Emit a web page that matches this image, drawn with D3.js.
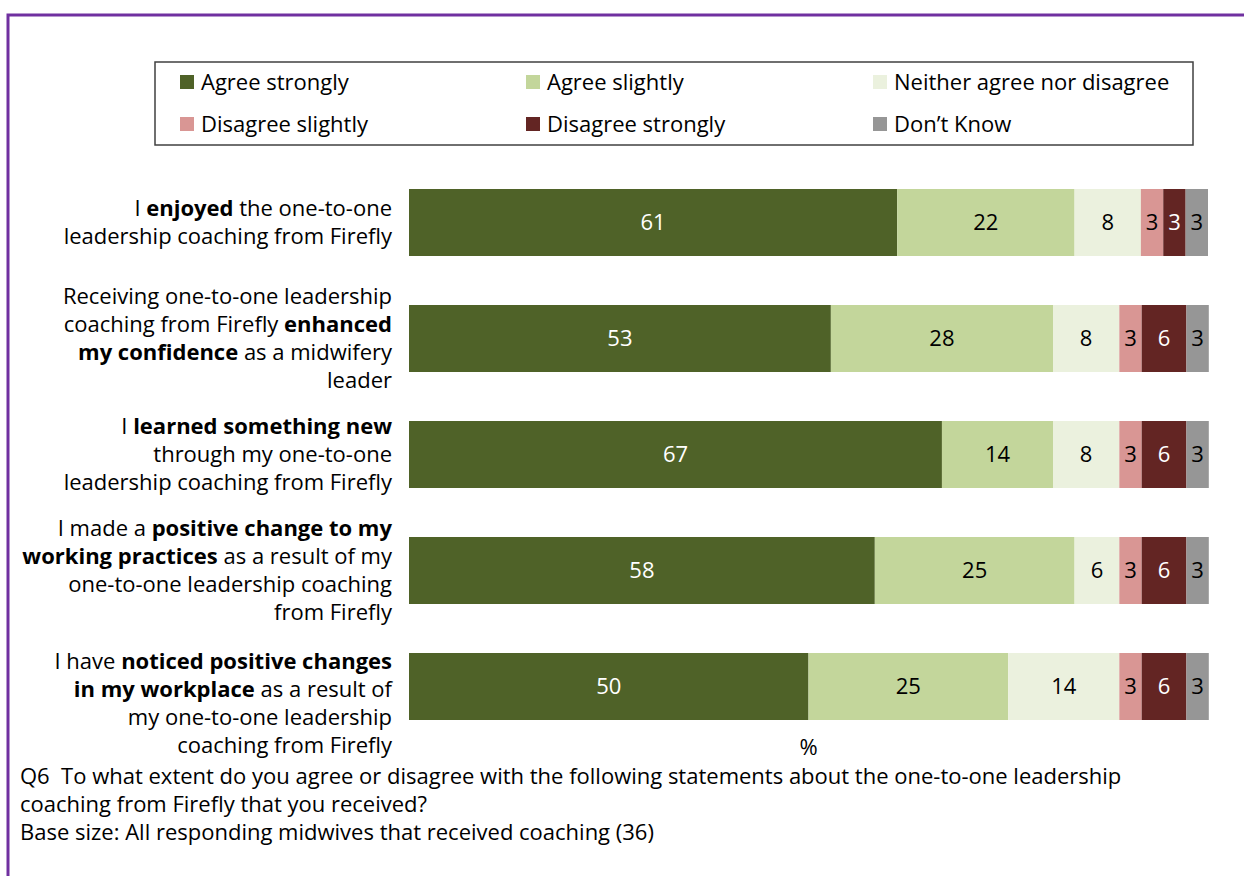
<!DOCTYPE html>
<html>
<head>
<meta charset="utf-8">
<script src="https://cdn.jsdelivr.net/npm/d3@7"></script>
<style>
  html, body { margin: 0; padding: 0; background: #fff; }
  svg { display: block; }
  text { font-family: "Open Sans", "Noto Sans", sans-serif; fill: #000; }
</style>
</head>
<body>
<svg id="chart" width="1244" height="876"></svg>
<script>
// ---- data ----
const seriesNames = ["Agree strongly", "Agree slightly", "Neither agree nor disagree",
                     "Disagree slightly", "Disagree strongly", "Don\u2019t Know"];
const seriesColors = ["#4F6228", "#C3D69B", "#EBF1DE", "#D99694", "#632523", "#969696"];
const seriesTextColors = ["#fff", "#000", "#000", "#000", "#fff", "#000"];

// category labels: lines of [text, bold]
const categories = [
  [[["I ", false], ["enjoyed", true], [" the one-to-one", false]],
   [["leadership coaching from Firefly", false]]],
  [[["Receiving one-to-one leadership", false]],
   [["coaching from Firefly ", false], ["enhanced", true]],
   [["my confidence", true], [" as a midwifery", false]],
   [["leader", false]]],
  [[["I ", false], ["learned something new", true]],
   [["through my one-to-one", false]],
   [["leadership coaching from Firefly", false]]],
  [[["I made a ", false], ["positive change to my", true]],
   [["working practices", true], [" as a result of my", false]],
   [["one-to-one leadership coaching", false]],
   [["from Firefly", false]]],
  [[["I have ", false], ["noticed positive changes", true]],
   [["in my workplace", true], [" as a result of", false]],
   [["my one-to-one leadership", false]],
   [["coaching from Firefly", false]]]
];

// percentages per series (one value per category)
const agreeStrongly    = [61.1, 52.8, 66.7, 58.3, 50.0];
const agreeSlightly    = [22.2, 27.8, 13.9, 25.0, 25.0];
const neither          = [8.3, 8.3, 8.3, 5.6, 13.9];
const disagreeSlightly = [2.8, 2.8, 2.8, 2.8, 2.8];
const disagreeStrongly = [2.8, 5.6, 5.6, 5.6, 5.6];
const dontKnow         = [2.8, 2.8, 2.8, 2.8, 2.8];

const footerLines = [
  "Q6\u00A0 To what extent do you agree or disagree with the following statements about the one-to-one leadership",
  "coaching from Firefly that you received?",
  "Base size: All responding midwives that received coaching (36)"
];
const axisTitle = "%";

// ---- build table ----
const seriesValues = [agreeStrongly, agreeSlightly, neither, disagreeSlightly, disagreeStrongly, dontKnow];
const keys = seriesNames;
const rows = categories.map((c, i) => {
  const r = { idx: i };
  keys.forEach((k, j) => r[k] = seriesValues[j][i]);
  return r;
});
const stack = d3.stack().keys(keys)(rows);

const svg = d3.select("#chart");
const FS = "22px";

// outer purple frame
svg.append("rect")
  .attr("x", 8).attr("y", 15).attr("width", 1260).attr("height", 900)
  .attr("fill", "none").attr("stroke", "#7030A0").attr("stroke-width", 3);

// scales
const x = d3.scaleLinear().domain([0, 100]).range([409, 1208]);
const y = d3.scaleBand().domain(d3.range(categories.length))
  .range([164.5, 744.5]).paddingInner(0.4224).paddingOuter(0.2112);
const color = d3.scaleOrdinal().domain(keys).range(seriesColors);
const tcolor = d3.scaleOrdinal().domain(keys).range(seriesTextColors);

// bars
const layers = svg.append("g").selectAll("g").data(stack).join("g")
  .attr("fill", d => color(d.key));
layers.selectAll("rect").data(d => d.map(p => ({p, key: d.key}))).join("rect")
  .attr("x", d => x(d.p[0]))
  .attr("y", d => y(d.p.data.idx))
  .attr("width", d => x(d.p[1]) - x(d.p[0]))
  .attr("height", y.bandwidth());

// value labels
const fmt = d3.format(".0f");
layers.selectAll("text").data(d => d.map(p => ({p, key: d.key}))).join("text")
  .attr("x", d => (x(d.p[0]) + x(d.p[1])) / 2)
  .attr("y", d => y(d.p.data.idx) + y.bandwidth() / 2)
  .attr("dy", "0.35em")
  .attr("text-anchor", "middle")
  .style("font-size", FS)
  .style("fill", d => tcolor(d.key))
  .text(d => fmt(d.p[1] - d.p[0]));

// category labels (y axis, no line)
const lineH = 28;
const catG = svg.append("g");
categories.forEach((lines, i) => {
  const n = lines.length;
  // last label overflows its slot and is pushed down, as in the original
  let cy = y(i) + y.bandwidth() / 2;
  if (i === categories.length - 1) cy += 17;
  const t = catG.append("text")
    .attr("text-anchor", "end")
    .style("font-size", FS);
  lines.forEach((segs, li) => {
    const ly = cy + (li - (n - 1) / 2) * lineH;
    segs.forEach((s, si) => {
      const ts = t.append("tspan").text(s[0])
        .style("font-weight", s[1] ? "bold" : "normal");
      if (si === 0) ts.attr("x", 392).attr("y", ly).attr("dy", "0.35em");
    });
  });
});

// axis title
svg.append("text")
  .attr("x", (x(0) + x(100)) / 2).attr("y", 747).attr("dy", "0.35em")
  .attr("text-anchor", "middle").style("font-size", FS)
  .text(axisTitle);

// legend
const lg = svg.append("g");
lg.append("rect").attr("x", 155).attr("y", 62).attr("width", 1038).attr("height", 83)
  .attr("fill", "#fff").attr("stroke", "#404040").attr("stroke-width", 1.5);
const legCols = [180, 526, 873];
const legRows = [82, 124];
keys.forEach((k, i) => {
  const cx = legCols[i % 3], cy = legRows[Math.floor(i / 3)];
  lg.append("rect").attr("x", cx).attr("y", cy - 7).attr("width", 14).attr("height", 14)
    .attr("fill", color(k));
  lg.append("text").attr("x", cx + 21).attr("y", cy).attr("dy", "0.35em")
    .style("font-size", FS).text(k);
});

// footer (one text block, three lines)
const foot = svg.append("text").style("font-size", FS);
footerLines.forEach((l, i) => {
  foot.append("tspan").attr("x", 20).attr("y", 776 + i * 28).attr("dy", "0.35em").text(l);
});
</script>
</body>
</html>
